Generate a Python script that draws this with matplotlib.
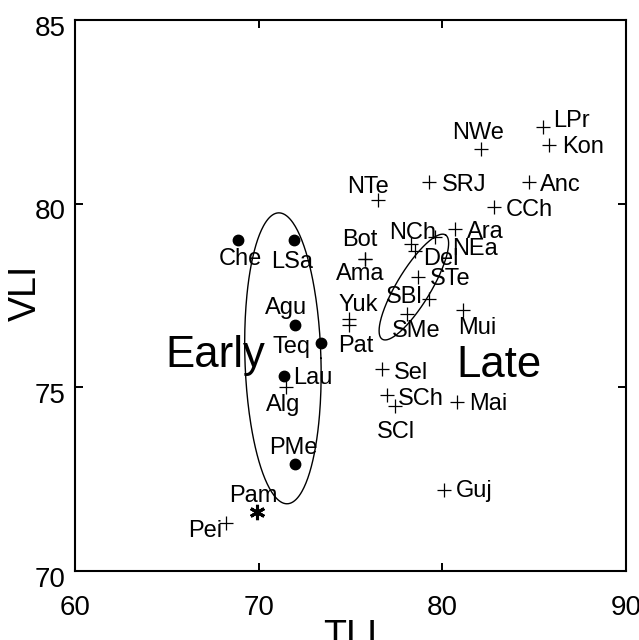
import numpy as np
import matplotlib
matplotlib.use("Agg")
import matplotlib.pyplot as plt
import matplotlib.transforms as mtransforms

plt.rcParams["font.family"] = ["Liberation Sans", "DejaVu Sans"]

# Early samples (filled dots)
early_names = ["Che", "LSa", "Agu", "Teq", "Lau", "PMe"]
early_tli = [68.9, 71.9, 72.0, 73.4, 71.4, 72.0]
early_vli = [79.0, 79.0, 76.7, 76.2, 75.3, 72.9]

# Pam (asterisk)
star_names = ["Pam"]
star_tli = [69.9]
star_vli = [71.6]

# Other samples (plus signs)
plus_names = ["Pei", "Alg", "NWe", "LPr", "Kon", "NTe", "SRJ", "Anc", "CCh",
              "Ara", "NEa", "NCh", "Del", "Bot", "Ama", "STe", "SBl", "SMe",
              "Yuk", "Pat", "Mui", "Sel", "SCh", "SCl", "Mai", "Guj"]
plus_tli = [68.2, 71.5, 82.1, 85.5, 85.8, 76.5, 79.3, 84.7, 82.8,
            80.7, 79.6, 78.3, 78.5, 75.8, 75.8, 78.7, 79.3, 78.1,
            74.9, 74.9, 81.1, 76.7, 77.0, 77.4, 80.8, 80.1]
plus_vli = [71.3, 75.0, 81.5, 82.1, 81.6, 80.1, 80.6, 80.6, 79.9,
            79.3, 79.1, 78.9, 78.7, 78.5, 78.5, 78.0, 77.4, 77.0,
            76.85, 76.7, 77.1, 75.5, 74.8, 74.5, 74.6, 72.2]

# label placement: offset in points from the mark (baseline), alignment
label_pos = {
    "Che": (1.4, -18, "center"), "LSa": (-0.7, -20, "center"),
    "Agu": (-6.5, 8, "center"), "Teq": (-21.6, -7.2, "center"),
    "Lau": (6.5, -5.8, "left"), "PMe": (-1.4, 7.2, "center"),
    "Pam": (-2.2, 7.2, "center"), "Pei": (-2.4, -10, "right"),
    "Alg": (-2.2, -17.3, "center"), "NWe": (-2.2, 7.2, "center"),
    "LPr": (7.2, 0, "left"), "Kon": (9.4, -5.8, "left"),
    "NTe": (-7.2, 5, "center"), "SRJ": (8.6, -6.5, "left"),
    "Anc": (7.9, -6.5, "left"), "CCh": (8.6, -6.5, "left"),
    "Ara": (8.6, -6.5, "left"), "NEa": (12.2, -13, "left"),
    "NCh": (1.4, 3.6, "center"), "Del": (5.8, -10.1, "left"),
    "Bot": (-3.6, 9.4, "center"), "Ama": (-3.6, -15.1, "center"),
    "STe": (7.9, -5.8, "left"), "SBl": (-5, -2.9, "right"),
    "SMe": (6.5, -16.6, "center"), "Yuk": (7, 5.8, "center"),
    "Pat": (4.8, -19.4, "center"), "Mui": (10.3, -17.5, "center"),
    "Sel": (8.6, -7.2, "left"), "SCh": (8, -7.2, "left"),
    "SCl": (1.2, -22.9, "center"), "Mai": (8.6, -6, "left"),
    "Guj": (8.6, -5, "left"),
}

# group ellipses: centre, x cos/sin terms, y cos/sin terms (data units)
early_ell = (71.32, 75.79, 2.07, -0.22, 0.0, 3.96)
late_ell = (78.45, 77.73, 1.72, 0.79, 1.42, -0.24)

fig = plt.figure(figsize=(6.39, 6.40), dpi=100)
ax = fig.add_axes([75 / 639, 69 / 640, 551 / 639, 551 / 640])

ax.plot(early_tli, early_vli, "o", color="black", markersize=7.5)
ax.plot(star_tli, star_vli, marker=(6, 2, 0), linestyle="none",
        color="black", markersize=11, markeredgewidth=2.2)
ax.plot(plus_tli, plus_vli, "+", color="black", markersize=10,
        markeredgewidth=0.9)

for names, xs, ys in [(early_names, early_tli, early_vli),
                      (star_names, star_tli, star_vli),
                      (plus_names, plus_tli, plus_vli)]:
    for n, x, y in zip(names, xs, ys):
        dx, dy, ha = label_pos[n]
        ax.annotate(n, (x, y), xytext=(dx, dy), textcoords="offset points",
                    ha=ha, va="baseline", fontsize=17)

t = np.linspace(0, 2 * np.pi, 300)
for cx, cy, a, b, c, d in [early_ell, late_ell]:
    ax.plot(cx + a * np.cos(t) + b * np.sin(t),
            cy + c * np.cos(t) + d * np.sin(t), color="black", lw=1.0)

ax.text(67.65, 75.55, "Early", fontsize=31.5, ha="center", va="baseline")
ax.text(83.1, 75.28, "Late", fontsize=31.5, ha="center", va="baseline")

ax.set_xlim(60, 90)
ax.set_ylim(70, 85)
ax.set_xticks([60, 70, 80, 90])
ax.set_yticks([70, 75, 80, 85])
ax.tick_params(direction="in", length=6, width=1.4, top=True, right=True,
               labelsize=20)
ax.tick_params(axis="x", pad=17)
ax.tick_params(axis="y", pad=7)
offset = mtransforms.ScaledTranslation(0, -4 / 72, fig.dpi_scale_trans)
for lab in ax.get_yticklabels():
    lab.set_transform(lab.get_transform() + offset)
for s in ax.spines.values():
    s.set_linewidth(1.5)

ax.set_xlabel("TLI", fontsize=27, va="top")
ax.xaxis.set_label_coords(0.5, -0.087)
ax.set_ylabel("VLI", fontsize=27)
ax.yaxis.set_label_coords(-0.056, 0.505)

fig.savefig("out.png", dpi=100)
